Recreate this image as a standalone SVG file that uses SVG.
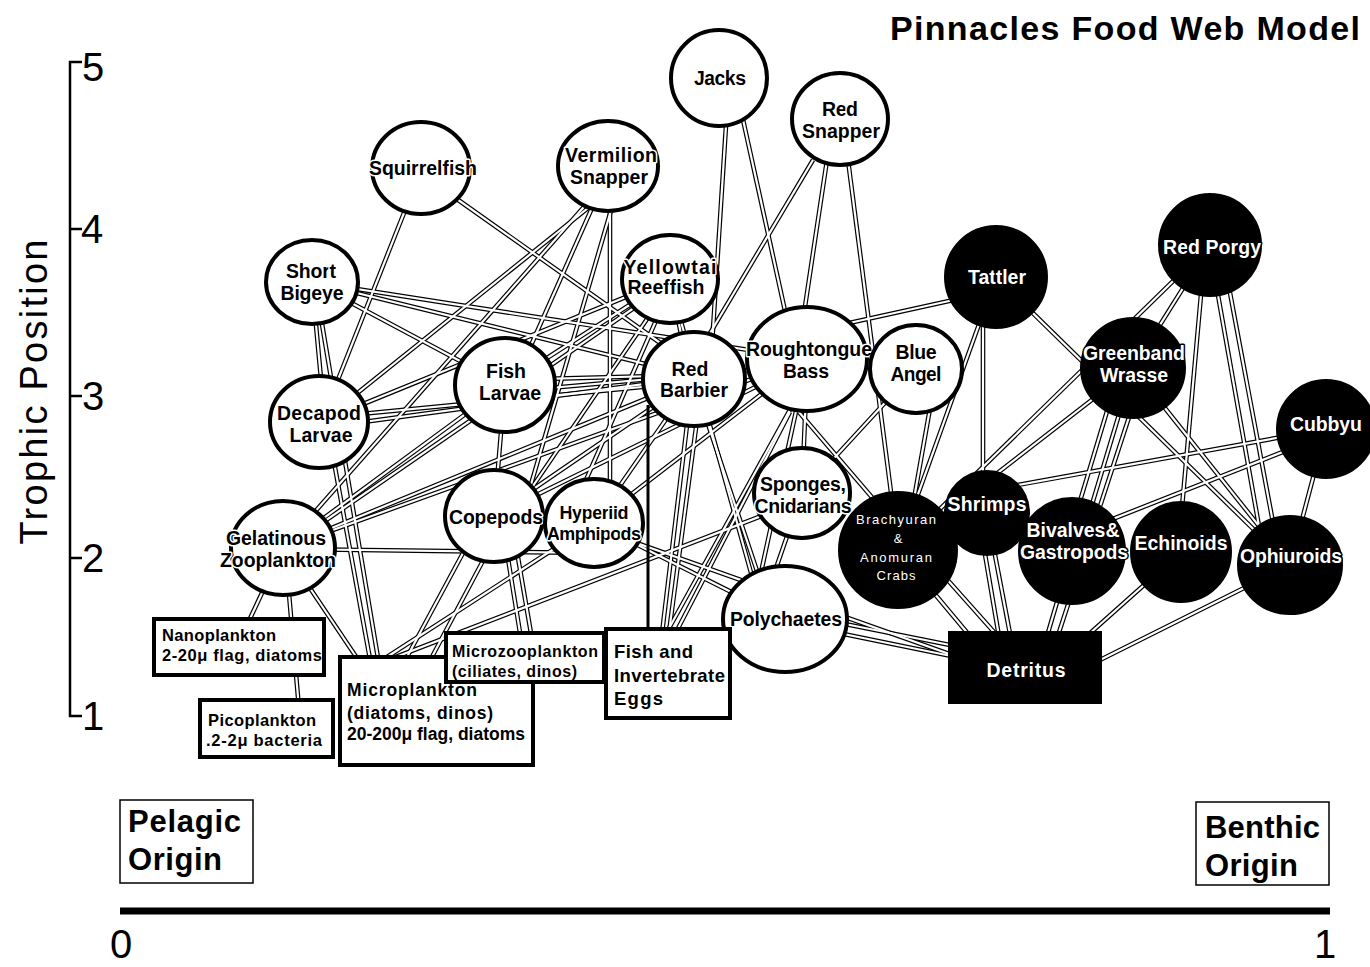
<svg xmlns="http://www.w3.org/2000/svg" width="1370" height="967" viewBox="0 0 1370 967">
<style>
.c{fill:#fff;stroke:#000;stroke-width:4}
.k{fill:#000;stroke:#000;stroke-width:2}
.bx{fill:#fff;stroke:#000;stroke-width:4}
.ob{fill:#fff;stroke:#000;stroke-width:1.5}
.t{font-family:"Liberation Sans",Arial,sans-serif;font-weight:bold;font-size:19.5px;text-anchor:middle;fill:#000;stroke:#fff;stroke-width:3;paint-order:stroke;stroke-linejoin:round}
.w{fill:#fff;stroke:#000}
.sm{font-weight:normal;font-size:13px;stroke:none}
.l{text-anchor:start;stroke:none}
.f15{font-size:16.5px}
.f14{font-size:16px}
.f16{font-size:17.5px}
.f17{font-size:18.5px}
.f18{font-size:18px}
.ax{font-family:"Liberation Sans",Arial,sans-serif;font-size:40px;fill:#000}
.big{font-family:"Liberation Sans",Arial,sans-serif;font-weight:bold;font-size:31px;fill:#000}
.ttl{font-size:34px}
.tp{font-size:38px}
</style>
<defs>
<g id="E">
<line x1="727" y1="110" x2="712" y2="345"/>
<line x1="742" y1="115" x2="787" y2="320"/>
<line x1="813" y1="160" x2="700" y2="350"/>
<line x1="827" y1="160" x2="803" y2="320"/>
<line x1="848" y1="160" x2="892" y2="500"/>
<line x1="840" y1="325" x2="990" y2="292"/>
<line x1="598" y1="200" x2="330" y2="415"/>
<line x1="590" y1="200" x2="290" y2="540"/>
<line x1="600" y1="190" x2="520" y2="370"/>
<line x1="614" y1="200" x2="525" y2="505"/>
<line x1="610" y1="200" x2="610" y2="505"/>
<line x1="421" y1="170" x2="322" y2="420"/>
<line x1="430" y1="180" x2="690" y2="364"/>
<line x1="312" y1="282" x2="325" y2="422"/>
<line x1="312" y1="282" x2="505" y2="385"/>
<line x1="312" y1="282" x2="690" y2="375"/>
<line x1="312" y1="282" x2="800" y2="358"/>
<line x1="670" y1="279" x2="690" y2="379"/>
<line x1="660" y1="300" x2="520" y2="505"/>
<line x1="665" y1="300" x2="575" y2="505"/>
<line x1="670" y1="279" x2="505" y2="385"/>
<line x1="660" y1="290" x2="290" y2="545"/>
<line x1="690" y1="400" x2="660" y2="650"/>
<line x1="700" y1="400" x2="770" y2="610"/>
<line x1="675" y1="300" x2="760" y2="605"/>
<line x1="805" y1="370" x2="755" y2="600"/>
<line x1="807" y1="370" x2="802" y2="490"/>
<line x1="818" y1="359" x2="657" y2="650"/>
<line x1="780" y1="390" x2="900" y2="530"/>
<line x1="807" y1="359" x2="283" y2="548"/>
<line x1="807" y1="359" x2="594" y2="523"/>
<line x1="800" y1="365" x2="494" y2="516"/>
<line x1="916" y1="369" x2="802" y2="493"/>
<line x1="935" y1="380" x2="905" y2="550"/>
<line x1="996" y1="277" x2="898" y2="550"/>
<line x1="983" y1="280" x2="983" y2="513"/>
<line x1="996" y1="277" x2="1290" y2="565"/>
<line x1="1210" y1="245" x2="898" y2="550"/>
<line x1="1210" y1="245" x2="1133" y2="368"/>
<line x1="1205" y1="250" x2="1178" y2="552"/>
<line x1="1210" y1="250" x2="1265" y2="560"/>
<line x1="1222" y1="250" x2="1280" y2="560"/>
<line x1="1133" y1="368" x2="898" y2="550"/>
<line x1="1120" y1="368" x2="1065" y2="551"/>
<line x1="1133" y1="368" x2="1078" y2="551"/>
<line x1="1145" y1="368" x2="1050" y2="660"/>
<line x1="1133" y1="368" x2="1290" y2="565"/>
<line x1="1326" y1="429" x2="990" y2="490"/>
<line x1="1326" y1="435" x2="1072" y2="535"/>
<line x1="1326" y1="429" x2="1290" y2="565"/>
<line x1="987" y1="513" x2="1015" y2="660"/>
<line x1="978" y1="513" x2="1003" y2="660"/>
<line x1="898" y1="550" x2="990" y2="660"/>
<line x1="912" y1="540" x2="1010" y2="650"/>
<line x1="1072" y1="551" x2="1040" y2="660"/>
<line x1="1181" y1="552" x2="1060" y2="660"/>
<line x1="1290" y1="565" x2="1060" y2="680"/>
<line x1="785" y1="612" x2="1000" y2="655"/>
<line x1="785" y1="622" x2="1000" y2="666"/>
<line x1="600" y1="530" x2="1000" y2="672"/>
<line x1="594" y1="523" x2="785" y2="619"/>
<line x1="802" y1="493" x2="765" y2="600"/>
<line x1="790" y1="505" x2="375" y2="665"/>
<line x1="594" y1="523" x2="370" y2="668"/>
<line x1="283" y1="548" x2="240" y2="640"/>
<line x1="285" y1="548" x2="300" y2="720"/>
<line x1="283" y1="548" x2="365" y2="670"/>
<line x1="283" y1="549" x2="594" y2="553"/>
<line x1="283" y1="548" x2="505" y2="385"/>
<line x1="283" y1="548" x2="694" y2="379"/>
<line x1="330" y1="440" x2="372" y2="670"/>
<line x1="318" y1="300" x2="380" y2="670"/>
<line x1="470" y1="540" x2="400" y2="670"/>
<line x1="494" y1="540" x2="425" y2="670"/>
<line x1="505" y1="540" x2="522" y2="645"/>
<line x1="515" y1="540" x2="533" y2="645"/>
<line x1="505" y1="385" x2="494" y2="516"/>
<line x1="505" y1="380" x2="694" y2="375"/>
<line x1="505" y1="392" x2="807" y2="365"/>
<line x1="319" y1="418" x2="694" y2="382"/>
<line x1="319" y1="428" x2="807" y2="362"/>
<line x1="319" y1="422" x2="670" y2="279"/>
<line x1="494" y1="516" x2="694" y2="379"/>
<line x1="594" y1="523" x2="694" y2="379"/>
<line x1="668" y1="640" x2="697" y2="420"/>
<line x1="672" y1="640" x2="790" y2="412"/>
</g>
</defs>

<g id="axes" fill="none" stroke="#000">
<path d="M82,62 H70 V716 H82" stroke-width="2.5"/>
<line x1="70" y1="229" x2="82" y2="229" stroke-width="2.5"/>
<line x1="70" y1="396" x2="82" y2="396" stroke-width="2.5"/>
<line x1="70" y1="558" x2="82" y2="558" stroke-width="2.5"/>
<line x1="120" y1="911" x2="1330" y2="911" stroke-width="7"/>
</g>
<g id="axis-labels">
<text class="ax" x="82" y="81">5</text>
<text class="ax" x="81" y="243">4</text>
<text class="ax" x="82" y="410">3</text>
<text class="ax" x="82" y="572">2</text>
<text class="ax" x="82" y="730">1</text>
<text class="ax tp" transform="translate(47,392) rotate(-90)" text-anchor="middle" textLength="305">Trophic Position</text>
<text class="ax" x="121" y="958" text-anchor="middle">0</text>
<text class="ax" x="1325" y="958" text-anchor="middle">1</text>
<text class="big ttl" x="890" y="40" textLength="470">Pinnacles Food Web Model</text>
</g>
<g id="pelagic-origin">
<rect class="ob" x="120" y="800" width="133" height="83"/>
<text class="big" x="128" y="832" textLength="113">Pelagic</text>
<text class="big" x="128" y="870" textLength="94">Origin</text>
</g>
<g id="benthic-origin">
<rect class="ob" x="1196" y="802" width="133" height="83"/>
<text class="big" x="1205" y="838" textLength="115">Benthic</text>
<text class="big" x="1205" y="876" textLength="93">Origin</text>
</g>

<g id="connectors" fill="none">
<use href="#E" stroke="#000" stroke-width="4.6"/>
<use href="#E" stroke="#fff" stroke-width="2.2"/>
<line x1="648" y1="405" x2="648" y2="632" stroke="#000" stroke-width="3"/>
</g>

<g id="jacks"><circle class="c" cx="719" cy="78" r="48"/><text class="t" x="720" y="85" textLength="52">Jacks</text></g>
<g id="red-snapper"><ellipse class="c" cx="840" cy="119" rx="48" ry="46"/><text class="t" x="840" y="116" textLength="36">Red</text><text class="t" x="841" y="138" textLength="78">Snapper</text></g>
<g id="vermilion-snapper"><ellipse class="c" cx="608" cy="166" rx="50" ry="45"/><text class="t" x="611" y="162" textLength="92">Vermilion</text><text class="t" x="609" y="184" textLength="78">Snapper</text></g>
<g id="squirrelfish"><ellipse class="c" cx="421" cy="168" rx="49" ry="46"/><text class="t" x="423" y="175" textLength="108">Squirrelfish</text></g>
<g id="short-bigeye"><ellipse class="c" cx="312" cy="282" rx="46" ry="42"/><text class="t" x="311" y="278" textLength="50">Short</text><text class="t" x="312" y="300" textLength="63">Bigeye</text></g>
<g id="decapod-larvae"><ellipse class="c" cx="319" cy="422" rx="49" ry="46"/><text class="t" x="319" y="420" textLength="84">Decapod</text><text class="t" x="321" y="442" textLength="63">Larvae</text></g>
<g id="fish-larvae"><ellipse class="c" cx="505" cy="385" rx="50" ry="47"/><text class="t" x="506" y="378" textLength="40">Fish</text><text class="t" x="510" y="400" textLength="62">Larvae</text></g>
<g id="yellowtail-reeffish"><ellipse class="c" cx="670" cy="279" rx="48" ry="44"/><text class="t" x="670" y="274" textLength="93">Yellowtai</text><text class="t" x="666" y="294" textLength="77">Reeffish</text></g>
<g id="red-barbier"><ellipse class="c" cx="694" cy="379" rx="51" ry="47"/><text class="t" x="690" y="376" textLength="37">Red</text><text class="t" x="694" y="397" textLength="68">Barbier</text></g>
<g id="roughtongue-bass"><ellipse class="c" cx="807" cy="359" rx="60" ry="52"/><text class="t" x="809" y="356" textLength="126">Roughtongue</text><text class="t" x="806" y="378" textLength="46">Bass</text></g>
<g id="blue-angel"><ellipse class="c" cx="916" cy="369" rx="46" ry="44"/><text class="t" x="916" y="359" textLength="41">Blue</text><text class="t" x="916" y="381" textLength="51">Angel</text></g>
<g id="sponges-cnidarians"><ellipse class="c" cx="802" cy="493" rx="48" ry="45"/><text class="t" x="803" y="491" textLength="86">Sponges,</text><text class="t" x="803" y="513" textLength="97">Cnidarians</text></g>
<g id="copepods"><ellipse class="c" cx="494" cy="516" rx="49" ry="46"/><text class="t" x="496" y="524" textLength="94">Copepods</text></g>
<g id="hyperiid-amphipods"><ellipse class="c" cx="594" cy="523" rx="49" ry="44"/><text class="t f18" x="594" y="519" textLength="69">Hyperiid</text><text class="t f18" x="594" y="540" textLength="94">Amphipods</text></g>
<g id="gelatinous-zooplankton"><ellipse class="c" cx="283" cy="548" rx="52" ry="47"/><text class="t" x="276" y="545" textLength="100">Gelatinous</text><text class="t" x="278" y="567" textLength="116">Zooplankton</text></g>
<g id="polychaetes"><ellipse class="c" cx="785" cy="619" rx="62" ry="53"/><text class="t" x="786" y="626" textLength="112">Polychaetes</text></g>

<g id="tattler"><circle class="k" cx="996" cy="277" r="51"/><text class="t w" x="997" y="284" textLength="58">Tattler</text></g>
<g id="red-porgy"><circle class="k" cx="1210" cy="245" r="51"/><text class="t w" x="1212" y="254" textLength="98">Red Porgy</text></g>
<g id="greenband-wrasse"><ellipse class="k" cx="1133" cy="368" rx="52" ry="50"/><text class="t w" x="1134" y="360" textLength="102">Greenband</text><text class="t w" x="1134" y="382" textLength="68">Wrasse</text></g>
<g id="cubbyu"><circle class="k" cx="1326" cy="429" r="49"/><text class="t w" x="1326" y="431" textLength="72">Cubbyu</text></g>
<g id="brachyuran-anomuran-crabs"><ellipse class="k" cx="898" cy="550" rx="59" ry="58"/><text class="t w sm" x="896" y="524" textLength="80">Brachyuran</text><text class="t w sm" x="898" y="543">&amp;</text><text class="t w sm" x="896" y="562" textLength="72">Anomuran</text><text class="t w sm" x="896" y="580" textLength="39">Crabs</text></g>
<g id="shrimps"><circle class="k" cx="987" cy="513" r="42"/><text class="t w" x="987" y="511" textLength="79">Shrimps</text></g>
<g id="bivalves-gastropods"><circle class="k" cx="1072" cy="551" r="53"/><text class="t w" x="1073" y="537" textLength="93">Bivalves&amp;</text><text class="t w" x="1074" y="559" textLength="108">Gastropods</text></g>
<g id="echinoids"><circle class="k" cx="1181" cy="552" r="50"/><text class="t w" x="1181" y="550" textLength="93">Echinoids</text></g>
<g id="ophiuroids"><ellipse class="k" cx="1290" cy="565" rx="52" ry="49"/><text class="t w" x="1291" y="563" textLength="102">Ophiuroids</text></g>
<g id="detritus"><rect class="k" x="949" y="632" width="152" height="71"/><text class="t w" x="1026" y="677" textLength="79">Detritus</text></g>

<g id="nanoplankton"><rect class="bx" x="154" y="619" width="170" height="56"/><text class="t l f15" x="162" y="641" textLength="114">Nanoplankton</text><text class="t l f15" x="162" y="661" textLength="160">2-20μ flag, diatoms</text></g>
<g id="picoplankton"><rect class="bx" x="200" y="700" width="133" height="57"/><text class="t l f15" x="208" y="726" textLength="108">Picoplankton</text><text class="t l f15" x="206" y="746" textLength="116">.2-2μ bacteria</text></g>
<g id="microplankton"><rect class="bx" x="340" y="657" width="193" height="108"/><text class="t l f16" x="347" y="696" textLength="130">Microplankton</text><text class="t l f16" x="347" y="719" textLength="146">(diatoms, dinos)</text><text class="t l f16" x="347" y="740" textLength="178">20-200μ flag, diatoms</text></g>
<g id="microzooplankton"><rect class="bx" x="446" y="633" width="158" height="49" stroke-width="3"/><text class="t l f14" x="452" y="657" textLength="146">Microzooplankton</text><text class="t l f14" x="452" y="677" textLength="125">(ciliates, dinos)</text></g>
<g id="fish-invertebrate-eggs"><rect class="bx" x="606" y="629" width="124" height="89" stroke-width="3.5"/><text class="t l f17" x="614" y="658" textLength="79">Fish and</text><text class="t l f17" x="614" y="682" textLength="111">Invertebrate</text><text class="t l f17" x="614" y="705" textLength="49">Eggs</text></g>
</svg>
